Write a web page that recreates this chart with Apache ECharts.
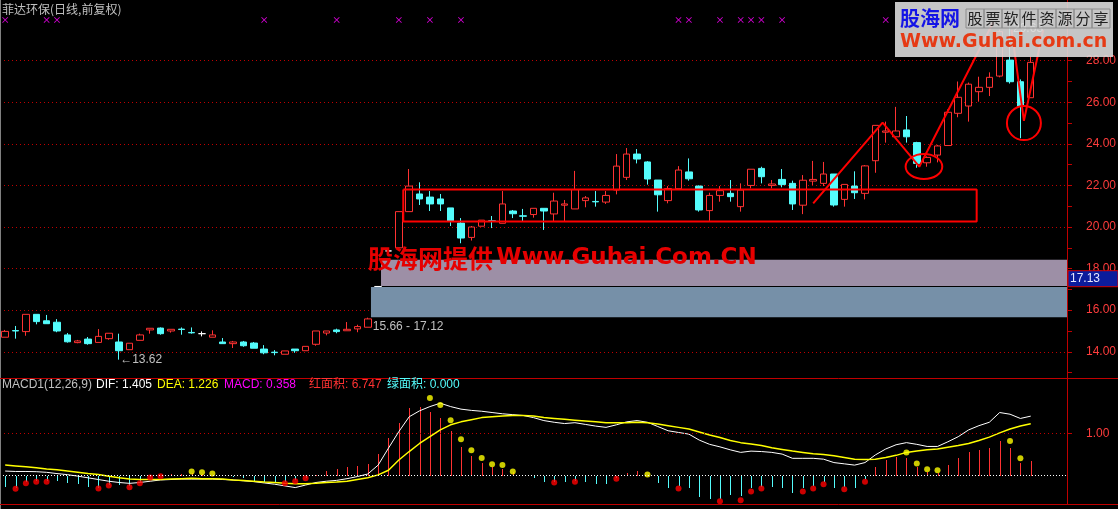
<!DOCTYPE html>
<html><head><meta charset="utf-8">
<script src="https://cdn.jsdelivr.net/npm/echarts@6/dist/echarts.min.js"></script>
<style>html,body{margin:0;padding:0;background:#000;}#c{width:1118px;height:509px;}</style>
</head><body><div id="c"></div>
<script>
// ---------- data ----------
const openP = [14.70,15.02,14.97,15.80,15.49,15.42,14.81,14.44,14.61,14.45,
 14.63,14.47,14.10,14.55,15.05,15.14,15.00,15.09,14.93,14.87,
 14.70,14.47,14.39,14.47,14.42,14.13,13.98,13.88,14.13,14.05,
 14.36,14.90,15.05,15.01,15.10,15.18,17.14,18.85,19.00,20.74,
 21.59,21.44,21.35,20.92,20.19,19.50,20.04,20.30,20.18,20.77,
 20.54,20.60,20.90,20.63,21.05,20.87,21.27,21.23,21.20,21.78,
 22.39,23.51,23.13,22.26,21.27,21.84,22.65,21.97,20.79,21.52,
 21.62,20.98,22.00,22.82,22.00,22.29,22.10,21.05,22.21,22.10,
 22.55,21.33,21.97,21.62,23.19,24.56,24.34,24.67,24.06,23.09,
 23.46,23.92,25.47,25.82,26.51,26.72,27.26,28.03,26.99,26.22];
const closeP = [14.98,15.00,15.80,15.45,15.35,15.00,14.48,14.52,14.39,14.74,
 14.89,14.05,14.41,14.81,15.13,14.87,15.08,15.07,14.91,14.87,
 14.81,14.39,14.47,14.29,14.17,13.95,13.96,14.04,14.05,14.26,
 15.00,15.00,14.97,15.08,15.21,15.58,17.14,18.85,20.74,21.97,
 21.35,21.11,21.11,20.29,19.47,20.00,20.33,20.28,21.11,20.64,
 20.52,20.90,20.77,21.25,21.11,21.80,21.40,21.21,21.52,22.93,
 23.51,23.27,22.31,21.55,21.85,22.74,22.32,20.82,21.52,21.75,
 21.46,21.78,22.78,22.42,22.07,22.04,21.11,22.25,22.29,22.55,
 21.06,22.05,21.65,22.94,24.89,24.62,24.62,24.34,23.06,23.35,
 23.90,25.52,26.24,26.87,26.72,27.20,29.40,26.99,25.82,27.92];
const lowP = [14.70,14.63,14.77,15.32,15.35,14.94,14.44,14.41,14.34,14.45,
 14.58,13.62,14.10,14.55,14.87,14.82,14.92,14.82,14.87,14.74,
 14.70,14.39,14.18,14.24,14.17,13.88,13.83,13.88,13.95,14.05,
 14.29,14.79,14.89,15.01,14.94,15.18,17.14,18.85,18.95,20.74,
 21.06,20.77,20.77,20.05,19.22,19.35,20.04,19.95,20.18,20.43,
 20.29,20.45,19.86,20.27,20.29,20.87,20.95,20.98,21.11,21.57,
 22.26,23.06,22.04,20.74,21.14,21.84,22.23,20.74,20.30,21.22,
 21.22,20.74,21.86,22.10,21.86,21.91,20.82,20.62,22.02,21.97,
 20.98,20.98,21.35,21.33,22.61,24.06,24.34,24.06,22.85,22.90,
 23.11,23.92,25.28,25.07,26.03,26.30,27.20,26.90,24.27,26.22];
const highP = [15.05,15.24,15.80,15.80,15.77,15.57,14.90,14.57,14.71,15.09,
 14.89,14.87,14.41,14.87,15.13,15.17,15.08,15.17,15.17,14.98,
 15.03,14.66,14.52,14.52,14.47,14.32,14.08,14.04,14.13,14.26,
 15.00,15.00,15.11,15.43,15.30,15.64,17.14,18.85,20.74,22.79,
 22.15,21.73,21.59,20.92,20.43,20.05,20.33,20.53,21.73,20.82,
 20.87,20.90,20.90,21.65,21.30,22.70,21.49,21.73,21.73,23.51,
 23.80,23.75,23.17,22.26,21.97,22.93,23.30,22.00,21.65,21.97,
 22.26,22.10,22.78,22.90,22.26,22.79,22.23,22.50,23.18,23.13,
 22.55,22.05,22.68,22.98,24.89,25.07,25.78,25.34,24.10,23.40,
 23.95,25.66,27.00,26.95,27.23,27.44,29.50,29.63,27.10,28.19];

const dif = [0.11,0.10,0.10,0.095,0.08,0.05,0.025,-0.01,-0.05,-0.09,
 -0.13,-0.16,-0.18,-0.16,-0.13,-0.10,-0.09,-0.08,-0.08,-0.08,
 -0.08,-0.09,-0.10,-0.12,-0.14,-0.17,-0.20,-0.24,-0.28,-0.22,
 -0.16,-0.13,-0.11,-0.07,-0.02,0.04,0.25,0.65,1.04,1.39,
 1.53,1.63,1.71,1.63,1.57,1.54,1.52,1.49,1.46,1.44,
 1.42,1.37,1.30,1.26,1.23,1.25,1.21,1.17,1.14,1.20,
 1.27,1.30,1.26,1.16,1.06,1.02,0.98,0.84,0.74,0.68,
 0.61,0.55,0.58,0.57,0.55,0.51,0.41,0.41,0.41,0.39,
 0.31,0.28,0.25,0.31,0.49,0.63,0.73,0.78,0.74,0.69,
 0.69,0.80,0.92,1.08,1.18,1.26,1.49,1.45,1.35,1.405];
const dea = [0.25,0.23,0.21,0.19,0.16,0.14,0.11,0.08,0.05,0.03,
 -0.01,-0.05,-0.08,-0.09,-0.09,-0.09,-0.08,-0.07,-0.06,-0.07,
 -0.07,-0.08,-0.10,-0.11,-0.13,-0.15,-0.16,-0.18,-0.19,-0.19,
 -0.18,-0.16,-0.15,-0.13,-0.09,-0.05,0.02,0.13,0.37,0.57,
 0.76,0.92,1.08,1.20,1.27,1.32,1.37,1.39,1.41,1.42,
 1.42,1.41,1.37,1.35,1.33,1.31,1.29,1.27,1.25,1.25,
 1.25,1.26,1.25,1.22,1.18,1.14,1.10,1.03,0.96,0.90,
 0.83,0.78,0.75,0.71,0.66,0.62,0.58,0.55,0.52,0.50,
 0.47,0.43,0.39,0.38,0.39,0.43,0.48,0.55,0.58,0.61,
 0.63,0.67,0.71,0.76,0.83,0.91,1.01,1.10,1.17,1.226];
const macdBars = [-0.26,-0.30,-0.16,-0.12,-0.12,-0.12,-0.18,-0.20,-0.26,-0.28,
 -0.22,-0.22,-0.25,-0.16,-0.04,-0.01,0.03,0.05,0.06,0.04,
 0.02,-0.01,-0.02,-0.06,-0.13,-0.14,-0.18,-0.16,-0.10,-0.05,
 0.02,0.12,0.16,0.20,0.24,0.28,0.51,0.88,1.25,1.59,
 1.61,1.51,1.35,1.05,0.68,0.46,0.31,0.21,0.17,0.09,
 -0.01,-0.06,-0.14,-0.14,-0.16,-0.12,-0.14,-0.20,-0.20,-0.05,
 0.07,0.11,0.01,-0.18,-0.28,-0.25,-0.28,-0.50,-0.54,-0.54,
 -0.46,-0.47,-0.30,-0.26,-0.26,-0.28,-0.41,-0.30,-0.25,-0.16,
 -0.30,-0.26,-0.28,-0.08,0.21,0.37,0.45,0.42,0.21,0.09,
 0.07,0.25,0.42,0.57,0.60,0.65,0.83,0.65,0.31,0.358];
const yellowDots = [[18,0.10],[19,0.08],[20,0.05],[41,1.83],[42,1.67],[43,1.31],[44,0.86],[45,0.60],
 [46,0.42],[47,0.27],[48,0.25],[49,0.10],[62,0.03],[87,0.55],[88,0.29],[89,0.15],[90,0.13],[97,0.82],[98,0.41]];
const redDots = [[1,-0.31],[2,-0.18],[3,-0.14],[4,-0.14],[9,-0.30],[10,-0.23],[12,-0.27],[13,-0.18],
 [14,-0.04],[15,-0.01],[27,-0.18],[28,-0.13],[29,-0.06],[53,-0.16],[55,-0.14],[59,-0.07],[65,-0.30],
 [69,-0.60],[71,-0.58],[72,-0.37],[73,-0.30],[77,-0.37],[78,-0.30],[79,-0.20],[81,-0.32],[83,-0.14]];
const signalMarks = [0,4,5,25,32,38,41,44,65,66,69,71,72,73,75,85];
const signalLevel = 29.96;
const priceTicks = [14,16,18,20,22,24,26,28];
const priceMinorTicks = [13,14,15,16,17,18,19,20,21,22,23,24,25,26,27,28,29,30];
const macdTicks = [1];
const emptySlots = 3;
const categories = openP.map((_, i) => 'K' + (i + 1)).concat(Array.from({length: emptySlots}, (_, i) => 'E' + (i + 1)));

// annotations in data space [index, price]
const boxRect = [[38.43,21.81],[93.78,21.81],[93.78,20.26],[38.43,20.26],[38.43,21.81]];
const trendLine1 = [[78.0,21.14],[84.7,25.02],[88.24,22.90],[95.4,29.86]];
const trendLine2 = [[97.15,29.48],[98.34,25.11],[100.2,29.48]];
const gapZones = [[36.28,17.16,102.5,18.42],[35.31,15.66,102.5,17.11]];
const gapColors = ['#9d8fa6','#7690a8'];
const ellipse1 = {x: 88.69, y: 22.91, rx: 1.77, ry: 0.60};
const ellipse2 = {x: 98.34, y: 25.0, rx: 1.64, ry: 0.82};
const lowMark = {i: 11, v: 13.62};
const rangeMark = {i: 35, lo: 15.66, hi: 17.12};
const highMark = {i: 97, v: 29.63};
const lastPrice = 17.13;
const macdInfo = {dif: 1.405, dea: 1.226, macd: 0.358, red: 6.747, green: 0.000};

// ---------- chart ----------
const RED = '#ff3232', CYAN = '#54fcfc', GRIDRED = '#c00000';
const candleData = openP.map((o, i) => {
  const item = {value: [o, closeP[i], lowP[i], highP[i]]};
  if (o === closeP[i]) item.itemStyle = {color: '#ffffff', color0: '#ffffff', borderColor: '#ffffff', borderColor0: '#ffffff'};
  return item;
});

const chart = echarts.init(document.getElementById('c'), null, {renderer: 'canvas', width: 1118, height: 509});
const yAxisCommon = {
  type: 'value', position: 'right', splitLine: {show: false},
  axisLine: {show: true, onZero: false, lineStyle: {color: GRIDRED, width: 1}},
};
const option = {
  backgroundColor: '#000000',
  animation: false,
  grid: [
    {left: 0, right: 51, top: 0, height: 378, containLabel: false, outerBoundsMode: 'none'},
    {left: 0, right: 51, top: 378, height: 126, containLabel: false, outerBoundsMode: 'none'}
  ],
  xAxis: [
    {type: 'category', gridIndex: 0, data: categories, boundaryGap: true, show: false},
    {type: 'value', gridIndex: 0, min: -0.5, max: categories.length - 0.5, show: false},
    {type: 'category', gridIndex: 1, data: categories, boundaryGap: true, show: false}
  ],
  yAxis: [
    Object.assign({}, yAxisCommon, {gridIndex: 0, min: 12.738, max: 30.92,
      axisTick: {show: true, customValues: priceMinorTicks, length: 5, lineStyle: {color: GRIDRED}},
      axisLabel: {show: true, customValues: priceTicks, color: '#ff3c3c', fontSize: 12, fontFamily: 'Liberation Sans', margin: 19,
        formatter: v => Number(v).toFixed(2)}}),
    Object.assign({}, yAxisCommon, {gridIndex: 1, min: -0.667, max: 2.304,
      axisTick: {show: true, customValues: macdTicks, length: 5, lineStyle: {color: GRIDRED}},
      axisLabel: {show: true, customValues: macdTicks, color: '#ff3c3c', fontSize: 12, fontFamily: 'Liberation Sans', margin: 19,
        formatter: v => Number(v).toFixed(2)}})
  ],
  series: [
    {
      type: 'candlestick', xAxisIndex: 0, yAxisIndex: 0, data: candleData, barWidth: 7, z: 3,
      itemStyle: {color: '#000000', color0: CYAN, borderColor: RED, borderColor0: CYAN, borderColorDoji: '#ffffff', borderWidth: 1},
      markLine: {silent: true, symbol: 'none', label: {show: false}, z: 1,
        lineStyle: {color: GRIDRED, type: [1, 3], width: 1},
        data: priceTicks.map(v => ({yAxis: v}))}
    },
    {
      type: 'scatter', xAxisIndex: 0, yAxisIndex: 0, z: 4,
      symbol: 'path://M0,1L1,0L5,4L9,0L10,1L6,5L10,9L9,10L5,6L1,10L0,9L4,5Z', symbolSize: 6,
      itemStyle: {color: '#ff00ff'},
      data: signalMarks.map(i => [i, signalLevel])
    },
    {
      type: 'custom', xAxisIndex: 1, yAxisIndex: 0, z: 5, silent: true,
      data: gapZones,
      renderItem: (params, api) => {
        const p1 = api.coord([api.value(0), api.value(3)]);
        const p2 = api.coord([api.value(2), api.value(1)]);
        return {type: 'rect', shape: {x: p1[0], y: p1[1], width: p2[0] - p1[0], height: p2[1] - p1[1]},
          style: {fill: gapColors[params.dataIndex]}};
      }
    },
    {type: 'line', xAxisIndex: 1, yAxisIndex: 0, data: boxRect, symbol: 'none', z: 6,
      lineStyle: {color: '#ff0000', width: 2}},
    {type: 'line', xAxisIndex: 1, yAxisIndex: 0, data: trendLine1, symbol: 'none', z: 6,
      lineStyle: {color: '#ff0000', width: 2}},
    {type: 'line', xAxisIndex: 1, yAxisIndex: 0, data: trendLine2, symbol: 'none', z: 6,
      lineStyle: {color: '#ff0000', width: 2}},
    {
      type: 'custom', xAxisIndex: 2, yAxisIndex: 1, z: 2, silent: true,
      data: macdBars.map((v, i) => [i, v]),
      renderItem: (params, api) => {
        const top = api.coord([api.value(0), api.value(1)]);
        const base = api.coord([api.value(0), 0]);
        const x = Math.round(top[0]) + 0.5;
        return {type: 'line', shape: {x1: x, y1: Math.round(base[1]), x2: x, y2: Math.round(top[1])},
          style: {stroke: api.value(1) >= 0 ? RED : CYAN, lineWidth: 1}};
      },
      markLine: {silent: true, symbol: 'none', label: {show: false},
        data: [{yAxis: 0, lineStyle: {color: '#ffffff', type: [1, 2], width: 1}},
               {yAxis: 1, lineStyle: {color: GRIDRED, type: [1, 3], width: 1}}]}
    },
    {type: 'line', xAxisIndex: 2, yAxisIndex: 1, data: dif, symbol: 'none', z: 3,
      lineStyle: {color: '#ffffff', width: 1}},
    {type: 'line', xAxisIndex: 2, yAxisIndex: 1, data: dea, symbol: 'none', z: 3,
      lineStyle: {color: '#ffff00', width: 1.5}},
    {type: 'scatter', xAxisIndex: 2, yAxisIndex: 1, data: yellowDots, symbol: 'circle', symbolSize: 6, z: 4,
      itemStyle: {color: '#ffff00'}},
    {type: 'scatter', xAxisIndex: 2, yAxisIndex: 1, data: redDots, symbol: 'circle', symbolSize: 6, z: 4,
      itemStyle: {color: '#ff0000'}}
  ]
};
chart.setOption(option);

// ---------- overlays ----------
const toPx = (x, y) => chart.convertToPixel({xAxisIndex: 1, yAxisIndex: 0}, [x, y]);
const F12 = '12px "Liberation Sans", "Noto Sans CJK SC", sans-serif';
const CJK12 = '12px "Noto Sans CJK SC", sans-serif';
const g = [];
g.push({type: 'line', shape: {x1: 0.5, y1: 0, x2: 0.5, y2: 509}, style: {stroke: '#808080', lineWidth: 1}, z: 50});
g.push({type: 'line', shape: {x1: 0, y1: 378.5, x2: 1118, y2: 378.5}, style: {stroke: GRIDRED, lineWidth: 1}, z: 50});
g.push({type: 'line', shape: {x1: 0, y1: 504.5, x2: 1118, y2: 504.5}, style: {stroke: GRIDRED, lineWidth: 1}, z: 50});
g.push({type: 'text', x: 2, y: 3, style: {text: '菲达环保(日线,前复权)', fill: '#c0c0c0', font: CJK12}, z: 60});
const hdr = [
  [2, 'MACD1(12,26,9)', '#c0c0c0'],
  [96, 'DIF: ' + macdInfo.dif.toFixed(3), '#ffffff'],
  [157, 'DEA: ' + macdInfo.dea.toFixed(3), '#ffff00'],
  [224, 'MACD: ' + macdInfo.macd.toFixed(3), '#ff00ff'],
  [309, '红面积: ' + macdInfo.red.toFixed(3), '#ff3232'],
  [387, '绿面积: ' + macdInfo.green.toFixed(3), CYAN]
];
hdr.forEach(h => g.push({type: 'text', x: h[0], y: 385, style: {text: h[1], fill: h[2], font: F12, verticalAlign: 'middle'}, z: 60}));
const lp = toPx(lowMark.i, lowMark.v);
g.push({type: 'text', x: lp[0] + 1, y: lp[1], style: {text: '←' + lowMark.v.toFixed(2), fill: '#c0c0c0', font: F12, verticalAlign: 'middle'}, z: 60});
const rp = toPx(rangeMark.i, rangeMark.lo);
g.push({type: 'text', x: rp[0] + 5, y: rp[1] + 3, style: {text: rangeMark.lo.toFixed(2) + ' - ' + rangeMark.hi.toFixed(2), fill: '#c0c0c0', font: F12, verticalAlign: 'top'}, z: 60});
const hp = toPx(highMark.i, highMark.v);
g.push({type: 'text', x: hp[0] + 3, y: hp[1] + 2, style: {text: highMark.v.toFixed(2), fill: '#e0e0e0', font: F12, verticalAlign: 'middle'}, z: 60});
[ellipse1, ellipse2].forEach(e => {
  const c = toPx(e.x, e.y), cx2 = toPx(e.x + e.rx, e.y), cy2 = toPx(e.x, e.y + e.ry);
  g.push({type: 'ellipse', shape: {cx: c[0], cy: c[1], rx: cx2[0] - c[0], ry: c[1] - cy2[1]},
    style: {fill: 'none', stroke: '#ff0000', lineWidth: 2}, z: 60});
});
const lpY = toPx(0, lastPrice)[1];
g.push({type: 'rect', shape: {x: 1068, y: lpY - 16, width: 50, height: 16}, style: {fill: '#0c1c9c', stroke: '#d00000', lineWidth: 1}, z: 70});
g.push({type: 'text', x: 1070, y: lpY - 8, style: {text: lastPrice.toFixed(2), fill: '#e8e8ff', font: F12, verticalAlign: 'middle'}, z: 71});
g.push({type: 'text', x: 368, y: 258, z: 80, style: {
  rich: {c: {font: 'bold 25px "Noto Sans CJK SC"', fill: '#e60000', textShadowColor: '#3a0000', textShadowOffsetX: 2, textShadowOffsetY: 2},
         l: {font: 'bold 23px "DejaVu Sans"', fill: '#e60000', textShadowColor: '#3a0000', textShadowOffsetX: 2, textShadowOffsetY: 2}},
  text: '{c|股海网提供} {l|Www.Guhai.Com.CN}', verticalAlign: 'middle'}});
g.push({type: 'rect', shape: {x: 895, y: 2, width: 218, height: 55}, style: {fill: 'rgba(218,218,218,0.9)'}, z: 90});
g.push({type: 'text', x: 900, y: 18, style: {text: '股海网', fill: '#1414e6', font: 'bold 20px "Noto Sans CJK SC"', verticalAlign: 'middle'}, z: 91});
'股票软件资源分享'.split('').forEach((ch, k) => {
  g.push({type: 'rect', shape: {x: 966 + k * 18, y: 9, width: 18, height: 19}, style: {fill: 'none', stroke: '#8c8c8c', lineWidth: 1}, z: 91});
  g.push({type: 'text', x: 975 + k * 18, y: 18.5, style: {text: ch, fill: '#202020', font: '15px "Noto Sans CJK SC"', align: 'center', verticalAlign: 'middle'}, z: 92});
});
g.push({type: 'text', x: 900, y: 42, style: {text: 'Www.Guhai.com.cn', fill: '#e63a14', font: 'bold 19px "DejaVu Sans"', verticalAlign: 'middle'}, z: 91});
chart.setOption({graphic: g});
</script></body></html>
